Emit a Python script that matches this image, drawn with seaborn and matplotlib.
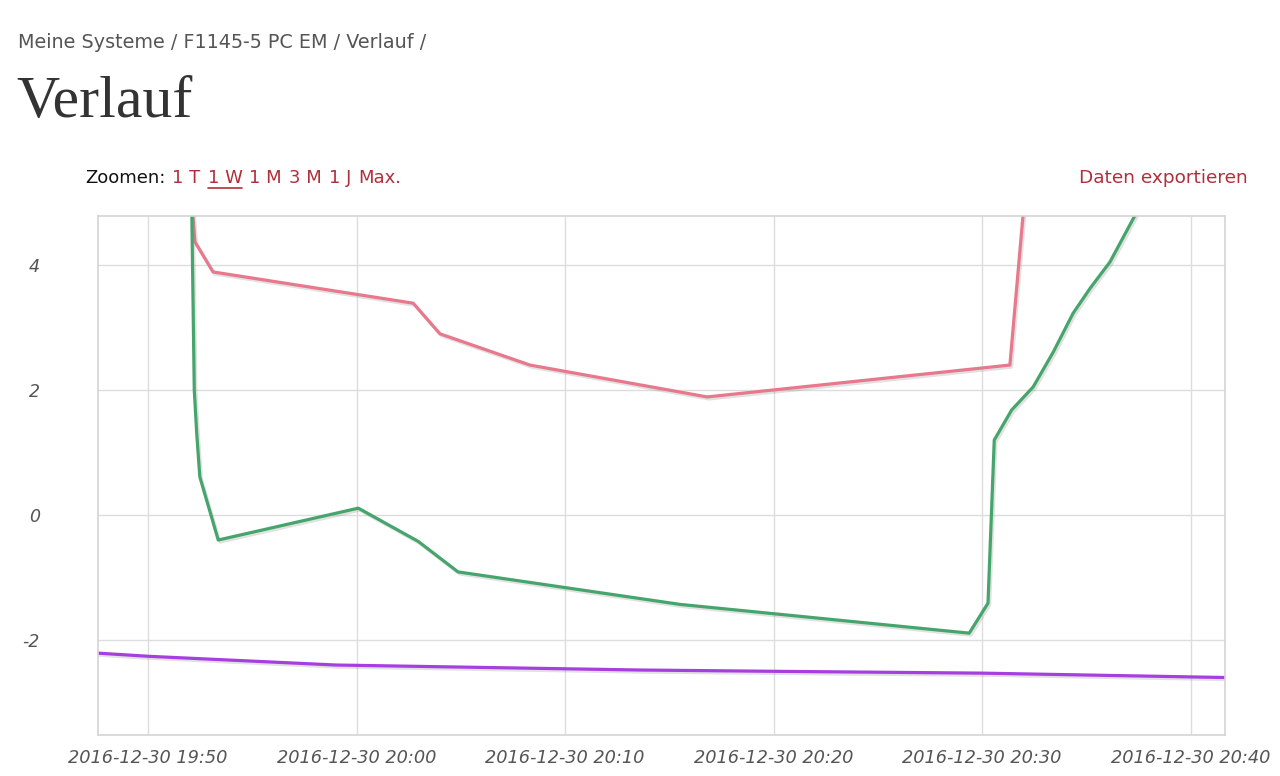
import matplotlib
matplotlib.use("Agg")
import matplotlib.pyplot as plt
import matplotlib.dates as mdates
import matplotlib.patheffects as pe
from matplotlib.lines import Line2D
import pandas as pd
import seaborn as sns

# ---- data ----
red_times = ["19:51:58", "19:52:15", "19:53:07", "20:02:43", "20:04:00",
             "20:08:19", "20:16:49", "20:31:20", "20:32:01"]
red_values = [5.5, 4.37, 3.89, 3.39, 2.90, 2.40, 1.89, 2.40, 5.0]

green_times = ["19:51:58", "19:52:13", "19:52:20", "19:52:29", "19:53:22",
               "20:00:05", "20:02:57", "20:04:52", "20:15:31", "20:29:23",
               "20:30:17", "20:30:35", "20:31:25", "20:32:27", "20:33:25",
               "20:34:22", "20:35:11", "20:36:08", "20:38:04"]
green_values = [8.0, 2.0, 1.31, 0.61, -0.40, 0.11, -0.42, -0.91, -1.43, -1.89,
                -1.41, 1.20, 1.68, 2.05, 2.61, 3.23, 3.63, 4.05, 5.25]

purple_times = ["19:47:36", "19:50:00", "19:59:00", "20:13:36", "20:19:48",
                "20:30:00", "20:41:39"]
purple_values = [-2.21, -2.26, -2.40, -2.48, -2.50, -2.53, -2.60]

y_ticks = [4, 2, 0, -2]
x_tick_times = ["19:50", "20:00", "20:10", "20:20", "20:30", "20:40"]
day = "2016-12-30"

breadcrumb = "Meine Systeme / F1145-5 PC EM / Verlauf /"
title = "Verlauf"
zoom_label = "Zoomen:"
zoom_links = ["1 T", "1 W", "1 M", "3 M", "1 J", "Max."]
export_label = "Daten exportieren"

# ---- frames ----
def to_dt(ts):
    return pd.to_datetime([f"{day} {t}" for t in ts])

red = pd.DataFrame({"t": to_dt(red_times), "v": red_values})
green = pd.DataFrame({"t": to_dt(green_times), "v": green_values})
purple = pd.DataFrame({"t": to_dt(purple_times), "v": purple_values})

sns.set_style("white")
plt.rcParams["font.family"] = ["DejaVu Sans"]

fig = plt.figure(figsize=(12.8, 7.76), dpi=100)
ax = fig.add_axes([98 / 1280, 1 - 735 / 776, (1225 - 98) / 1280, (735 - 215.7) / 776])

shadow = [pe.SimpleLineShadow(offset=(1.2, -1.5), shadow_color="#888888", alpha=0.25),
          pe.Normal()]

for df, col in [(purple, "#a63ee0"), (red, "#e8788c"), (green, "#45a56c")]:
    sns.lineplot(data=df, x="t", y="v", ax=ax, color=col, linewidth=2.3,
                 sort=False, estimator=None, path_effects=shadow)

ax.set_xlim(purple["t"].iloc[0], purple["t"].iloc[-1])
ax.set_ylim(-3.52, 4.79)
ax.set_yticks(y_ticks)
ax.set_yticklabels([str(v) for v in y_ticks])
ax.set_xticks(to_dt([t + ":00" for t in x_tick_times]))
ax.xaxis.set_major_formatter(mdates.DateFormatter("%Y-%m-%d %H:%M"))
ax.set_xlabel("")
ax.set_ylabel("")
ax.grid(True, color="#dddddd", linewidth=1.0)
ax.set_axisbelow(True)
for s in ax.spines.values():
    s.set_color("#d4d4d4")
    s.set_linewidth(1.2)
ax.tick_params(axis="both", length=0, colors="#555555")
ax.tick_params(axis="x", labelsize=12.8, pad=10)
ax.tick_params(axis="y", labelsize=12.5, pad=42)
for lab in ax.get_xticklabels() + ax.get_yticklabels():
    lab.set_fontstyle("italic")

# ---- page texts ----
fig.text(18 / 1280, 1 - 42 / 776, breadcrumb, fontsize=13.8, color="#555555",
         va="center", ha="left", family="DejaVu Sans")
fig.text(16 / 1280, 1 - 103 / 776, title, fontsize=43, color="#333333",
         va="center", ha="left", family="Liberation Serif")

red_col = "#b02f3c"
zt = fig.text(85 / 1280, 1 - 178 / 776, zoom_label, fontsize=13, color="#111111",
              va="center", ha="left", family="DejaVu Sans Condensed")
prev = zt
link_texts = []
for lk in zoom_links:
    t = ax.annotate(lk, xy=(1, 0), xycoords=prev, xytext=(5, 0),
                    textcoords="offset points", fontsize=13, color=red_col,
                    va="bottom", ha="left", family="DejaVu Sans Condensed",
                    annotation_clip=False)
    link_texts.append(t)
    prev = t

fig.text(1248 / 1280, 1 - 178 / 776, export_label, fontsize=13.3, color=red_col,
         va="center", ha="right", family="DejaVu Sans")

fig.canvas.draw()
bb = link_texts[1].get_window_extent()
inv = fig.transFigure.inverted()
(x0, y0), (x1, y1) = inv.transform([(bb.x0, bb.y0), (bb.x1, bb.y0)])
fig.add_artist(Line2D([x0, x1], [y0 - 0.001, y0 - 0.001], color=red_col,
                      linewidth=1.2, transform=fig.transFigure))

fig.savefig("out.png", dpi=100)
